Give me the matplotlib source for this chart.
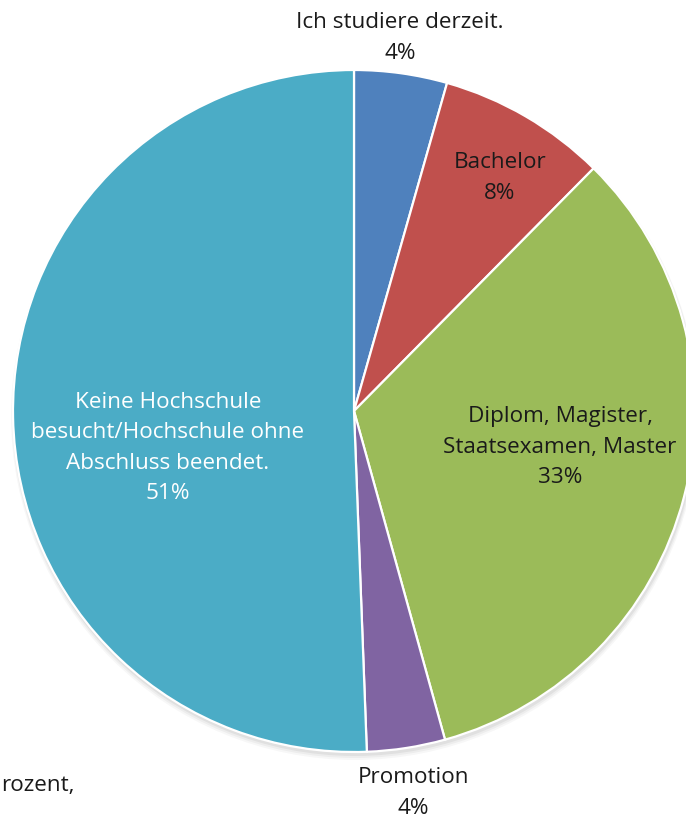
import matplotlib
matplotlib.use("Agg")
import matplotlib.pyplot as plt
from matplotlib.patches import Circle

# Highest educational attainment (share of respondents, %)
categories = [
    "Ich studiere derzeit.",
    "Bachelor",
    "Diplom, Magister,\nStaatsexamen, Master",
    "Promotion",
    "Keine Hochschule\nbesucht/Hochschule ohne\nAbschluss beendet.",
]
shares = [4.4, 8.0, 33.3, 3.7, 50.6]
colors = ["#4F81BD", "#C0504D", "#9BBB59", "#8064A2", "#4BACC6"]
label_colors = ["#1a1a1a", "#1a1a1a", "#1a1a1a", "#1a1a1a", "white"]

W, H = 686, 819
fig = plt.figure(figsize=(W / 100, H / 100), dpi=100)
ax = fig.add_axes([0, 0, 1, 1])

cx, cy, r = 354, 819 - 411, 341

# soft drop shadow beneath the pie
for i, a in enumerate([0.05, 0.04, 0.03]):
    ax.add_patch(Circle((cx + 1, cy - 3 - i), r + 1 + i, color="black",
                        alpha=a, lw=0, zorder=0))

wedges, _ = ax.pie(shares, colors=colors, startangle=90, counterclock=False,
                   center=(cx, cy), radius=r, frame=True,
                   wedgeprops=dict(edgecolor="white", linewidth=1.6))
for w in wedges:
    w.set_zorder(1)
ax.set_xlim(0, W)
ax.set_ylim(0, H)
ax.set_aspect("equal")
ax.axis("off")

font = "Open Sans"
fs = 16.2
# label anchor points (pixel coordinates, from the top)
label_pos = [(400, 38), (500, 178), (560, 447), (413, 793), (168, 448)]
for name, val, (x, y), c in zip(categories, shares, label_pos, label_colors):
    ax.text(x, H - y, f"{name}\n{val:.0f}%", ha="center", va="center",
            fontsize=fs, family=font, color=c, linespacing=1.6, zorder=3)

ax.text(1, H - 785, "rozent,", ha="left", va="center", fontsize=fs,
        family=font, color="#1a1a1a")

fig.savefig("out.png", dpi=100, facecolor="white")
